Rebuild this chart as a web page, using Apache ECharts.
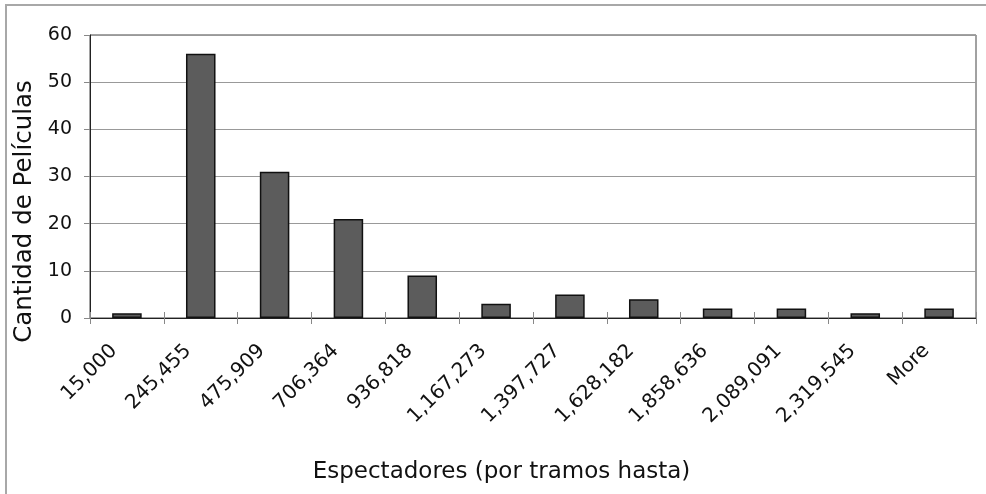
<!DOCTYPE html>
<html>
<head>
<meta charset="utf-8">
<script src="https://cdn.jsdelivr.net/npm/echarts@6/dist/echarts.min.js"></script>
<style>
html,body{margin:0;padding:0;background:#fff;}
#chart{width:986px;height:494px;}
</style>
</head>
<body>
<div id="chart"></div>
<script>
const categories = ['15,000','245,455','475,909','706,364','936,818','1,167,273','1,397,727','1,628,182','1,858,636','2,089,091','2,319,545','More'];
const counts = [1, 56, 31, 21, 9, 3, 5, 4, 2, 2, 1, 2];
const yTicks = {min: 0, max: 60, interval: 10};
const xTitle = 'Espectadores (por tramos hasta)';
const yTitle = 'Cantidad de Películas';

const chart = echarts.init(document.getElementById('chart'));
const font = 'DejaVu Sans';
chart.setOption({
  animation: false,
  backgroundColor: '#fff',
  graphic: [{
    type: 'rect',
    shape: {x: 6, y: 5, width: 1200, height: 800},
    style: {fill: 'none', stroke: '#a8a8a8', lineWidth: 2},
    silent: true, z: -1
  }],
  grid: {left: 90, right: 10, top: 35, bottom: 176, show: true, borderColor: '#444', borderWidth: 1},
  xAxis: [{
    type: 'category',
    data: categories,
    boundaryGap: true,
    axisLine: {show: true, lineStyle: {color: '#222', width: 1}},
    axisTick: {show: true, alignWithLabel: false, length: 6, lineStyle: {color: '#888'}},
    axisLabel: {rotate: 45, margin: 17, padding: [0, 18, 0, 0], fontFamily: font, fontSize: 20, color: '#111', interval: 0},
    name: xTitle,
    nameLocation: 'middle',
    nameGap: 143,
    nameTextStyle: {fontFamily: font, fontSize: 23, color: '#111', padding: [0, 63, 0, 0]}
  }, {
    type: 'category',
    data: categories,
    position: 'bottom',
    boundaryGap: true,
    axisLine: {show: false},
    axisTick: {show: true, inside: true, length: 6, lineStyle: {color: '#888'}},
    axisLabel: {show: false}
  }],
  yAxis: {
    type: 'value',
    min: yTicks.min, max: yTicks.max, interval: yTicks.interval,
    axisLine: {show: true, lineStyle: {color: '#222', width: 1}},
    axisTick: {show: true, length: 6, lineStyle: {color: '#888'}},
    axisLabel: {margin: 18, fontFamily: font, fontSize: 19, color: '#111'},
    splitLine: {show: true, lineStyle: {color: '#999', width: 1}},
    name: yTitle,
    nameLocation: 'middle',
    nameRotate: 90,
    nameGap: 51,
    nameTextStyle: {fontFamily: font, fontSize: 24.5, color: '#111', padding: [0, 70, 0, 0]}
  },
  series: [{
    type: 'bar',
    data: counts,
    xAxisIndex: 0,
    barWidth: '40%',
    itemStyle: {color: '#5c5c5c', borderColor: '#111', borderWidth: 1.5}
  }]
});
</script>
</body>
</html>
